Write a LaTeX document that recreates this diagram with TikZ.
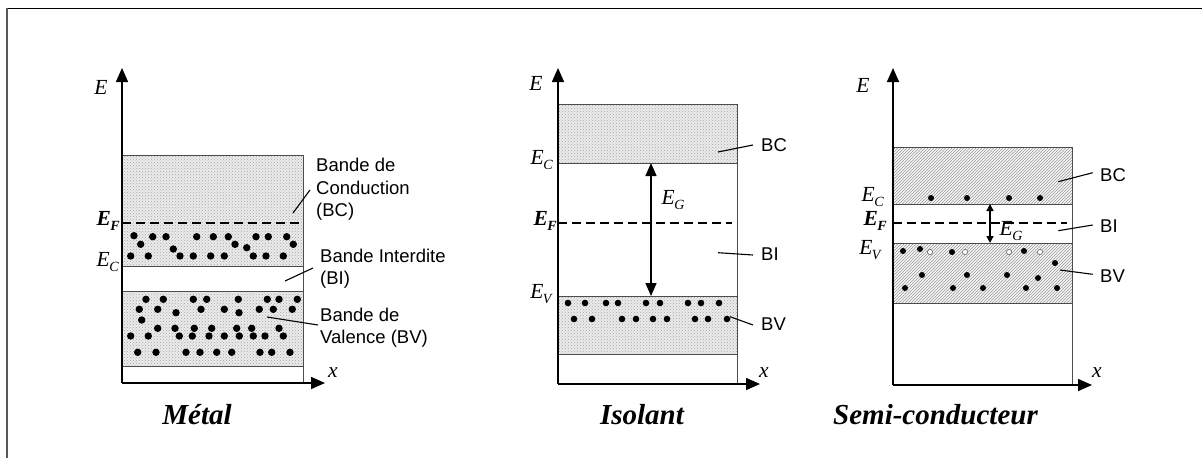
\documentclass[tikz,border=0pt]{standalone}
\usepackage{fontspec}
\setmainfont{Liberation Serif}
\newfontfamily\labfont{Liberation Sans}
\usetikzlibrary{arrows.meta,patterns}
\newcommand{\Elab}[1]{\textit{E}\kern-0.5pt\raisebox{-4.5pt}{\fontsize{14}{14}\selectfont\textit{#1}}}
\newcommand{\Eblab}[1]{\textbf{\textit{E}}\kern-0.5pt\raisebox{-4.5pt}{\fontsize{14}{14}\selectfont\textbf{\textit{#1}}}}
\tikzset{
  axisline/.style={line width=1.6pt, -{Triangle[length=14pt,width=12pt]}},
  boxline/.style={draw=black!70, line width=0.9pt},
  dotband/.style={preaction={fill=black!8}, pattern=crosshatch dots, pattern color=black!35},
  hatchband/.style={preaction={fill=black!3}, pattern=north east lines, pattern color=black!40},
  fermi/.style={line width=2.3pt, dash pattern=on 9pt off 5pt},
  gaparrow/.style={line width=1.5pt, {Triangle[length=13pt,width=11pt]}-{Triangle[length=13pt,width=11pt]}},
  smallgap/.style={line width=1.4pt, {Triangle[length=7pt,width=7pt]}-{Triangle[length=7pt,width=7pt]}},
  leader/.style={line width=1.1pt},
  lab/.style={font=\labfont\fontsize{18.5}{22.5}\selectfont, align=left, anchor=west, inner sep=0pt},
  elab/.style={font=\fontsize{21.5}{21.5}\selectfont, inner sep=0pt},
  title/.style={font=\fontsize{29}{29}\selectfont\bfseries\itshape, inner sep=0pt},
  electron/.style={fill=black},
  hole/.style={draw=black!55, fill=white, line width=0.7pt}
}
\begin{document}
\begin{tikzpicture}[x=1pt,y=-1pt]
\useasboundingbox (0,0) rectangle (1202,458);
% frame
\draw[line width=1.3pt] (7,8.5) -- (1202,8.5);
\draw[black!65, line width=1.6pt] (7,8) -- (7,458);

%================ METAL ================
\fill[dotband] (122,155.7) rectangle (303,266.7);
\fill[dotband] (122,291) rectangle (303,366);
\draw[boxline] (122,155.7) -- (303,155.7) -- (303,383);
\draw[boxline] (122,266.7) -- (303,266.7);
\draw[boxline] (122,291) -- (303,291);
\draw[boxline] (122,366) -- (303,366);
\draw[fermi] (122,223) -- (303,223);
\foreach \x/\y in {134/235.7,152.7/236.7,166/236.7,196.7/236.7,213.3/236.7,228.3/236.7,256/236.7,268.3/236.7,286.7/236.7,
  140.7/244.3,235/244.3,246.7/247.7,293.3/244.3,173.3/249,
  130.7/256,148.3/256,180/256,193.3/256,210.7/256,224.3/256,253.3/256,266/256,283.3/256}
  \fill[electron] (\x,\y) circle (3.7pt);
\foreach \x/\y in {146/299.3,163.3/299.3,193.3/299.3,206.7/299.3,238.3/299.3,267.3/299.3,279/299.3,297.3/299.3,
  139.3/309.3,157.7/309.3,201/309.3,224.3/309.3,259.3/309.3,273.3/309.3,292.3/309.3,
  176/312.7,239/312.7,141.7/320,
  157.7/328.3,175/328.3,194.3/328.3,211.7/328.3,236.7/328.3,251.7/328.3,279/328.3,
  130.7/336,148.3/336,179.3/336,192.3/336,209/336,224.3/336,239.3/336,253.3/336,265/336,283.3/336,
  137.7/352.3,156/352.3,186/352.3,200/352.3,216.7/352.3,231.7/352.3,260/352.3,271.7/352.3,290/352.3}
  \fill[electron] (\x,\y) circle (3.7pt);
\coordinate (mO) at (122,383);
\coordinate (mY) at (122,68);
\coordinate (mX) at (325,383);
\draw[axisline] (mO) -- (mY);
\draw[axisline] (mO) -- (mX);
\node[elab] (mE) at (101,87) {\textit{E}};
\node[elab, anchor=east] (mEF) at (120,221) {\Eblab{F}};
\node[elab, anchor=east] (mEC) at (119,262) {\Elab{C}};
\node[elab] (mx) at (333,373) {\textit{x}};
\node[lab] (mBC) at (316,189.5) {Bande de\\Conduction\\(BC)};
\node[lab] (mBI) at (320,268.5) {Bande Interdite\\(BI)};
\node[lab] (mBV) at (320,327.5) {Bande de\\Valence (BV)};
\coordinate (mBCp) at (293,213);
\coordinate (mBIp) at (285,281);
\coordinate (mBVp) at (267,317);
\draw[leader] (mBCp) -- (310,190);
\draw[leader] (mBIp) -- (313,268);
\draw[leader] (mBVp) -- (318,325);
\node[title] (mT) at (197,415) {Métal};

%================ ISOLANT ================
\fill[dotband] (558,104) rectangle (737,163);
\fill[dotband] (558,296) rectangle (737,354);
\draw[boxline] (558,104) -- (737,104) -- (737,384);
\draw[boxline] (558,163) -- (737,163);
\draw[boxline] (558,296) -- (737,296);
\draw[boxline] (558,354) -- (737,354);
\draw[fermi] (558,223) -- (732,223);
\foreach \x in {568,585,606,618,646,660,688,701,719}
  \fill[electron] (\x,303) circle (3.3pt);
\foreach \x in {574,592,622,636,653,667,695,708,727}
  \fill[electron] (\x,319) circle (3.3pt);
\coordinate (iO) at (558,384);
\coordinate (iY) at (558,68);
\coordinate (iX) at (760,384);
\draw[axisline] (iO) -- (iY);
\draw[axisline] (iO) -- (iX);
\coordinate (iGt) at (651,163);
\coordinate (iGb) at (651,296);
\draw[gaparrow] (iGt) -- (iGb);
\node[elab] (iEG) at (673,200) {\Elab{G}};
\node[elab] (iE) at (536,83) {\textit{E}};
\node[elab, anchor=east] (iEC) at (553,160) {\Elab{C}};
\node[elab, anchor=east] (iEF) at (557,221) {\Eblab{F}};
\node[elab, anchor=east] (iEV) at (553,294) {\Elab{V}};
\node[elab] (ix) at (764,373) {\textit{x}};
\node[lab] (iBC) at (761,145) {BC};
\node[lab] (iBI) at (761,254) {BI};
\node[lab] (iBV) at (761,324) {BV};
\draw[leader] (718,152) -- (753,145);
\draw[leader] (718,252.7) -- (753,255);
\draw[leader] (730,316.7) -- (753,325);
\node[title] (iT) at (642,415) {Isolant};

%================ SEMI ================
\fill[hatchband] (893,147) rectangle (1072,204);
\fill[hatchband] (893,243) rectangle (1072,303);
\draw[boxline] (893,147) -- (1072,147) -- (1072,385);
\draw[boxline] (893,204) -- (1072,204);
\draw[boxline] (893,243) -- (1072,243);
\draw[boxline] (893,303) -- (1072,303);
\draw[fermi] (893,223) -- (1067,223);
\foreach \x in {931,967,1009,1040}
  \fill[electron] (\x,198) circle (3pt);
\foreach \x/\y in {903/251,920/249,952/252,1024/251,922/275,967/275,1007/275,1038/278,1055/263,
  905/288,953/288,983/288,1026/288,1057/288}
  \fill[electron] (\x,\y) circle (3pt);
\foreach \x in {930,965,1009,1040}
  \draw[hole] (\x,252) circle (2.6pt);
\coordinate (sO) at (893,385);
\coordinate (sY) at (893,68);
\coordinate (sX) at (1092,385);
\draw[axisline] (sO) -- (sY);
\draw[axisline] (sO) -- (sX);
\coordinate (sGt) at (990,204);
\coordinate (sGb) at (990,243);
\draw[smallgap] (sGt) -- (sGb);
\node[elab] (sEG) at (1011,231) {\Elab{G}};
\node[elab] (sE) at (863,85) {\textit{E}};
\node[elab, anchor=east] (sEC) at (884,197) {\Elab{C}};
\node[elab, anchor=east] (sEF) at (887,221) {\Eblab{F}};
\node[elab, anchor=east] (sEV) at (882,250) {\Elab{V}};
\node[elab] (sx) at (1097,373) {\textit{x}};
\node[lab] (sBC) at (1100,175) {BC};
\node[lab] (sBI) at (1100,226) {BI};
\node[lab] (sBV) at (1100,275.7) {BV};
\draw[leader] (1058.3,181.7) -- (1092.7,172.7);
\draw[leader] (1058.3,230.7) -- (1092.7,225);
\draw[leader] (1060,270) -- (1092.7,274.3);
\node[title] (sT) at (935.5,415) {Semi-conducteur};
\end{tikzpicture}
\end{document}
